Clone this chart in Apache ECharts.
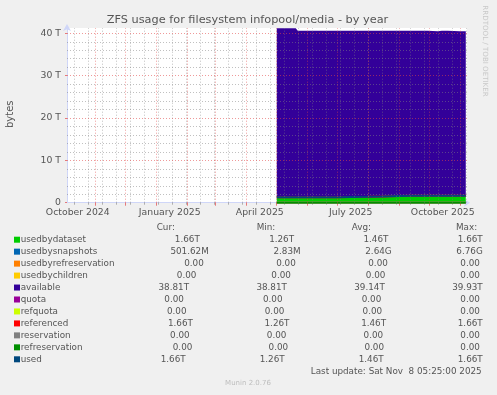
<!DOCTYPE html>
<html><head><meta charset="utf-8">
<script src="https://cdn.jsdelivr.net/npm/echarts@6/dist/echarts.min.js"></script>
<style>html,body{margin:0;padding:0;background:#f0f0f0;}#c{width:497px;height:395px;}</style>
</head><body><div id="c"></div>
<script>
// ---------- data ----------
const chartTitle = 'ZFS usage for filesystem infopool/media - by year';
const yAxisName = 'bytes';
const dates = ['2025-05-02','2025-05-10','2025-05-21','2025-05-23','2025-06-01','2025-06-15','2025-07-01','2025-07-15','2025-08-01','2025-08-15','2025-09-01','2025-09-15','2025-09-30','2025-10-02','2025-10-10','2025-10-14','2025-10-16','2025-10-20','2025-10-22','2025-11-01','2025-11-07'];
// values in T
const usedbydataset = [1.26,1.26,1.26,1.26,1.27,1.28,1.30,1.33,1.38,1.45,1.60,1.63,1.65,1.66,1.66,1.66,1.66,1.66,1.66,1.66,1.66];
const usedbysnapshots = [0.0066,0.0052,0.0040,0.0031,0.0025,0.0030,0.0028,0.0022,0.0019,0.0024,0.0020,0.0018,0.0015,0.0012,0.0010,0.0008,0.0006,0.0005,0.0004,0.0003,0.0005];
const usedbyrefreservation = [0,0,0,0,0,0,0,0,0,0,0,0,0,0,0,0,0,0,0,0,0];
const usedbychildren = [0,0,0,0,0,0,0,0,0,0,0,0,0,0,0,0,0,0,0,0,0];
const available = [39.93,39.93,39.93,39.36,39.35,39.34,39.32,39.29,39.24,39.17,39.02,38.99,38.97,38.82,38.83,38.95,38.83,38.96,38.84,38.82,38.81];
const quota = [0,0,0,0,0,0,0,0,0,0,0,0,0,0,0,0,0,0,0,0,0];
const refquota = [0,0,0,0,0,0,0,0,0,0,0,0,0,0,0,0,0,0,0,0,0];
const referenced = [1.26,1.26,1.26,1.26,1.27,1.28,1.30,1.33,1.38,1.45,1.60,1.63,1.65,1.66,1.66,1.66,1.66,1.66,1.66,1.66,1.66];
const reservation = [0,0,0,0,0,0,0,0,0,0,0,0,0,0,0,0,0,0,0,0,0];
const refreservation = [0,0,0,0,0,0,0,0,0,0,0,0,0,0,0,0,0,0,0,0,0];
const used = [1.27,1.27,1.26,1.26,1.27,1.28,1.30,1.33,1.38,1.45,1.60,1.63,1.65,1.66,1.66,1.66,1.66,1.66,1.66,1.66,1.66];

const legendNames = ['usedbydataset','usedbysnapshots','usedbyrefreservation','usedbychildren','available','quota','refquota','referenced','reservation','refreservation','used'];
const legendColors = ['#00cc00','#0066b3','#ff8000','#ffcc00','#330099','#990099','#ccff00','#ff0000','#808080','#008f00','#00487d'];
const curVals = ['1.66T','501.62M','0.00','0.00','38.81T','0.00','0.00','1.66T','0.00','0.00','1.66T'];
const minVals = ['1.26T','2.83M','0.00','0.00','38.81T','0.00','0.00','1.26T','0.00','0.00','1.26T'];
const avgVals = ['1.46T','2.64G','0.00','0.00','39.14T','0.00','0.00','1.46T','0.00','0.00','1.46T'];
const maxVals = ['1.66T','6.76G','0.00','0.00','39.93T','0.00','0.00','1.66T','0.00','0.00','1.66T'];
const headers = ['Cur:','Min:','Avg:','Max:'];

const xRange = ['2024-10-04T05:25:00Z','2025-11-08T05:25:00Z'];
const xLabelDates = ['2024-10-15','2025-01-15','2025-04-15','2025-07-15','2025-10-15'];
const xLabels = ['October 2024','January 2025','April 2025','July 2025','October 2025'];
const yTicks = [0,10,20,30,40];
const yTickLabels = ['0','10 T','20 T','30 T','40 T'];
const yMax = 41.25;
const lastUpdate = 'Last update: Sat Nov  8 05:25:00 2025';
const versionText = 'Munin 2.0.76';
const watermark = 'RRDTOOL / TOBI OETIKER';

// ---------- build ----------
const T = s => Date.parse(s.length === 10 ? s + 'T00:00:00Z' : s);
const xMin = T(xRange[0]), xMax = T(xRange[1]);
const pairs = arr => dates.map((d, i) => [T(d), arr[i]]);
const FONT = 'DejaVu Sans';
const TXT = '#555555';

const monthStarts = [];
for (let y = 2024, m = 10; ; m++) {
  if (m > 11) { m = 0; y++; }
  const t = Date.UTC(y, m, 1);
  if (t > xMax) break;
  if (t > xMin) monthStarts.push(t);
}
const minorX = [];
for (let t = Date.UTC(2024, 9, 11); t < xMax; t += 14 * 86400000) minorX.push(t);
const minorY = [], majorY = [];
for (let v = 2; v <= 40; v += 2) (v % 10 === 0 ? majorY : minorY).push(v);

const GRID_MINOR = 'rgba(130,130,130,0.5)';
const GRID_MAJOR = 'rgba(225,70,70,0.55)';
const dash = [1, 2];
const mlData = [];
minorX.forEach(t => mlData.push({xAxis: t, lineStyle: {color: GRID_MINOR, type: dash, width: 1}}));
minorY.forEach(v => mlData.push({yAxis: v, lineStyle: {color: GRID_MINOR, type: dash, width: 1}}));
monthStarts.forEach(t => mlData.push({xAxis: t, lineStyle: {color: GRID_MAJOR, type: dash, width: 1}}));
majorY.forEach(v => mlData.push({yAxis: v, lineStyle: {color: GRID_MAJOR, type: dash, width: 1}}));

const areaSeries = [
  ['usedbydataset', usedbydataset, '#00cc00'],
  ['usedbysnapshots', usedbysnapshots, '#0066b3'],
  ['usedbyrefreservation', usedbyrefreservation, '#ff8000'],
  ['usedbychildren', usedbychildren, '#ffcc00'],
  ['available', available, '#330099']
].map(([n, d, c]) => ({
  name: n, type: 'line', stack: 'total', stackStrategy: 'all', data: pairs(d), symbol: 'none', showSymbol: false,
  xAxisIndex: 0, yAxisIndex: 0,
  lineStyle: {width: 0}, areaStyle: {color: c, opacity: 1}, itemStyle: {color: c},
  emphasis: {disabled: true}, silent: true
}));
const lineSeries = [
  ['quota', quota, '#990099'],
  ['refquota', refquota, '#ccff00'],
  ['referenced', referenced, '#ff0000'],
  ['reservation', reservation, '#808080'],
  ['refreservation', refreservation, '#008f00'],
  ['used', used, '#00487d']
].map(([n, d, c]) => ({
  name: n, type: 'line', data: pairs(d), symbol: 'none', showSymbol: false,
  xAxisIndex: 0, yAxisIndex: 0,
  lineStyle: {width: 2, color: c}, itemStyle: {color: c},
  emphasis: {disabled: true}, silent: true
}));
const gridSeries = {
  name: 'grid', type: 'line', data: [[xMin, 0]], symbol: 'none', showSymbol: false, silent: true,
  xAxisIndex: 0, yAxisIndex: 0,
  lineStyle: {opacity: 0},
  markLine: {silent: true, symbol: ['none', 'none'], label: {show: false}, animation: false,
    emphasis: {disabled: true}, data: mlData}
};

// ---------- legend (rrdtool \j justification) ----------
const LFS = 8.8;
const cv = document.createElement('canvas').getContext('2d');
cv.font = LFS + 'px "' + FONT + '"';
const mw = s => cv.measureText(s).width;
const fmt = s => {
  const m = s.match(/^([\d.]+)([A-Za-z]?)$/);
  return m[1].padStart(6, ' ') + (m[2] || ' ');
};
const maxLen = Math.max(...legendNames.map(n => n.length));
const LEG_L = 20.7, LEG_R = 482.7, ROW0 = 239.7, ROWH = 11.96;
const graphics = [];
const txt = (text, x, y, opts) => graphics.push({
  type: 'text', x: x, y: y, silent: true,
  style: Object.assign({text: text, fill: TXT, fontSize: LFS, fontFamily: FONT, align: 'left', verticalAlign: 'middle'}, opts || {})
});
const headerX = [156.7, 256.7, 351.7, 456];
headers.forEach((h, i) => txt(h, headerX[i], ROW0 - ROWH));
legendNames.forEach((name, i) => {
  const y = ROW0 + i * ROWH;
  graphics.push({type: 'rect', silent: true, shape: {x: 14, y: y - 3, width: 6, height: 6}, style: {fill: legendColors[i]}});
  const items = [name + ' '.repeat(maxLen - name.length), fmt(curVals[i]), fmt(minVals[i]), fmt(avgVals[i]), fmt(maxVals[i])];
  const widths = items.map(mw);
  const gap = (LEG_R - LEG_L - widths.reduce((a, b) => a + b, 0)) / (items.length - 1);
  let x = LEG_L;
  items.forEach((it, k) => {
    const vis = it.replace(/^ +/, '').replace(/ +$/, '');
    const lead = it.length - it.replace(/^ +/, '').length;
    txt(vis, x + mw(' '.repeat(lead)), y);
    x += widths[k] + gap;
  });
});
txt(lastUpdate, 481.7, ROW0 + 11 * ROWH, {align: 'right'});
txt(versionText, 248, 383.3, {align: 'center', fontSize: 7, fill: '#bdbdbd'});
txt(chartTitle, 247.5, 20.5, {align: 'center', fontSize: 11.3});
graphics.push({type: 'text', x: 10.8, y: 114.2, rotation: Math.PI / 2, silent: true,
  style: {text: yAxisName, fill: TXT, fontSize: 10, fontFamily: FONT, align: 'center', verticalAlign: 'middle'}});
graphics.push({type: 'text', x: 484.5, y: 51, rotation: -Math.PI / 2, silent: true,
  style: {text: watermark, fill: '#c8c8c8', fontSize: 7.1, fontFamily: FONT, align: 'center', verticalAlign: 'middle'}});

// ---------- chart ----------
const AXIS = '#cfd6f8';
const xLabelTs = xLabelDates.map(T);
const chart = echarts.init(document.getElementById('c'), null, {renderer: 'canvas'});
chart.setOption({
  animation: false,
  backgroundColor: '#f0f0f0',
  textStyle: {fontFamily: FONT},
  grid: {left: 67, right: 30, top: 28, bottom: 192.3, show: true, backgroundColor: '#ffffff', borderWidth: 0, containLabel: false},
  xAxis: [{
    type: 'time', min: xMin, max: xMax, gridIndex: 0,
    axisLine: {show: true, onZero: false, lineStyle: {color: AXIS, width: 1}, symbol: ['none', 'arrow'], symbolSize: [6, 6], symbolOffset: [0, 3]},
    axisTick: {show: false}, axisLabel: {show: false}, splitLine: {show: false}
  }, {
    type: 'value', min: xMin, max: xMax, gridIndex: 0, position: 'bottom', scale: true,
    axisLine: {show: false, onZero: false},
    axisTick: {show: true, customValues: monthStarts, length: 3, lineStyle: {color: 'rgba(225,70,70,0.7)'}},
    axisLabel: {show: true, customValues: xLabelTs, color: TXT, fontSize: 9.3, fontFamily: FONT, margin: 5,
      formatter: v => { const i = xLabelTs.indexOf(v); return i >= 0 ? xLabels[i] : ''; }},
    splitLine: {show: false}
  }, {
    type: 'value', min: xMin, max: xMax, gridIndex: 0, position: 'bottom', scale: true,
    axisLine: {show: false, onZero: false},
    axisTick: {show: true, customValues: minorX, length: 2, lineStyle: {color: 'rgba(130,130,130,0.6)'}},
    axisLabel: {show: false}, splitLine: {show: false}
  }],
  yAxis: [{
    type: 'value', min: 0, max: yMax,
    axisLine: {show: true, onZero: false, lineStyle: {color: AXIS, width: 1}, symbol: ['none', 'arrow'], symbolSize: [6, 7], symbolOffset: [0, 4]},
    axisTick: {show: true, customValues: yTicks, length: 2, lineStyle: {color: 'rgba(225,70,70,0.7)'}},
    axisLabel: {show: true, customValues: yTicks, color: TXT, fontSize: 9.3, fontFamily: FONT, margin: 6,
      formatter: v => { const i = yTicks.indexOf(v); return i >= 0 ? yTickLabels[i] : ''; }},
    splitLine: {show: false}
  }],
  series: [...areaSeries, ...lineSeries, gridSeries],
  graphic: graphics
});
</script></body></html>
